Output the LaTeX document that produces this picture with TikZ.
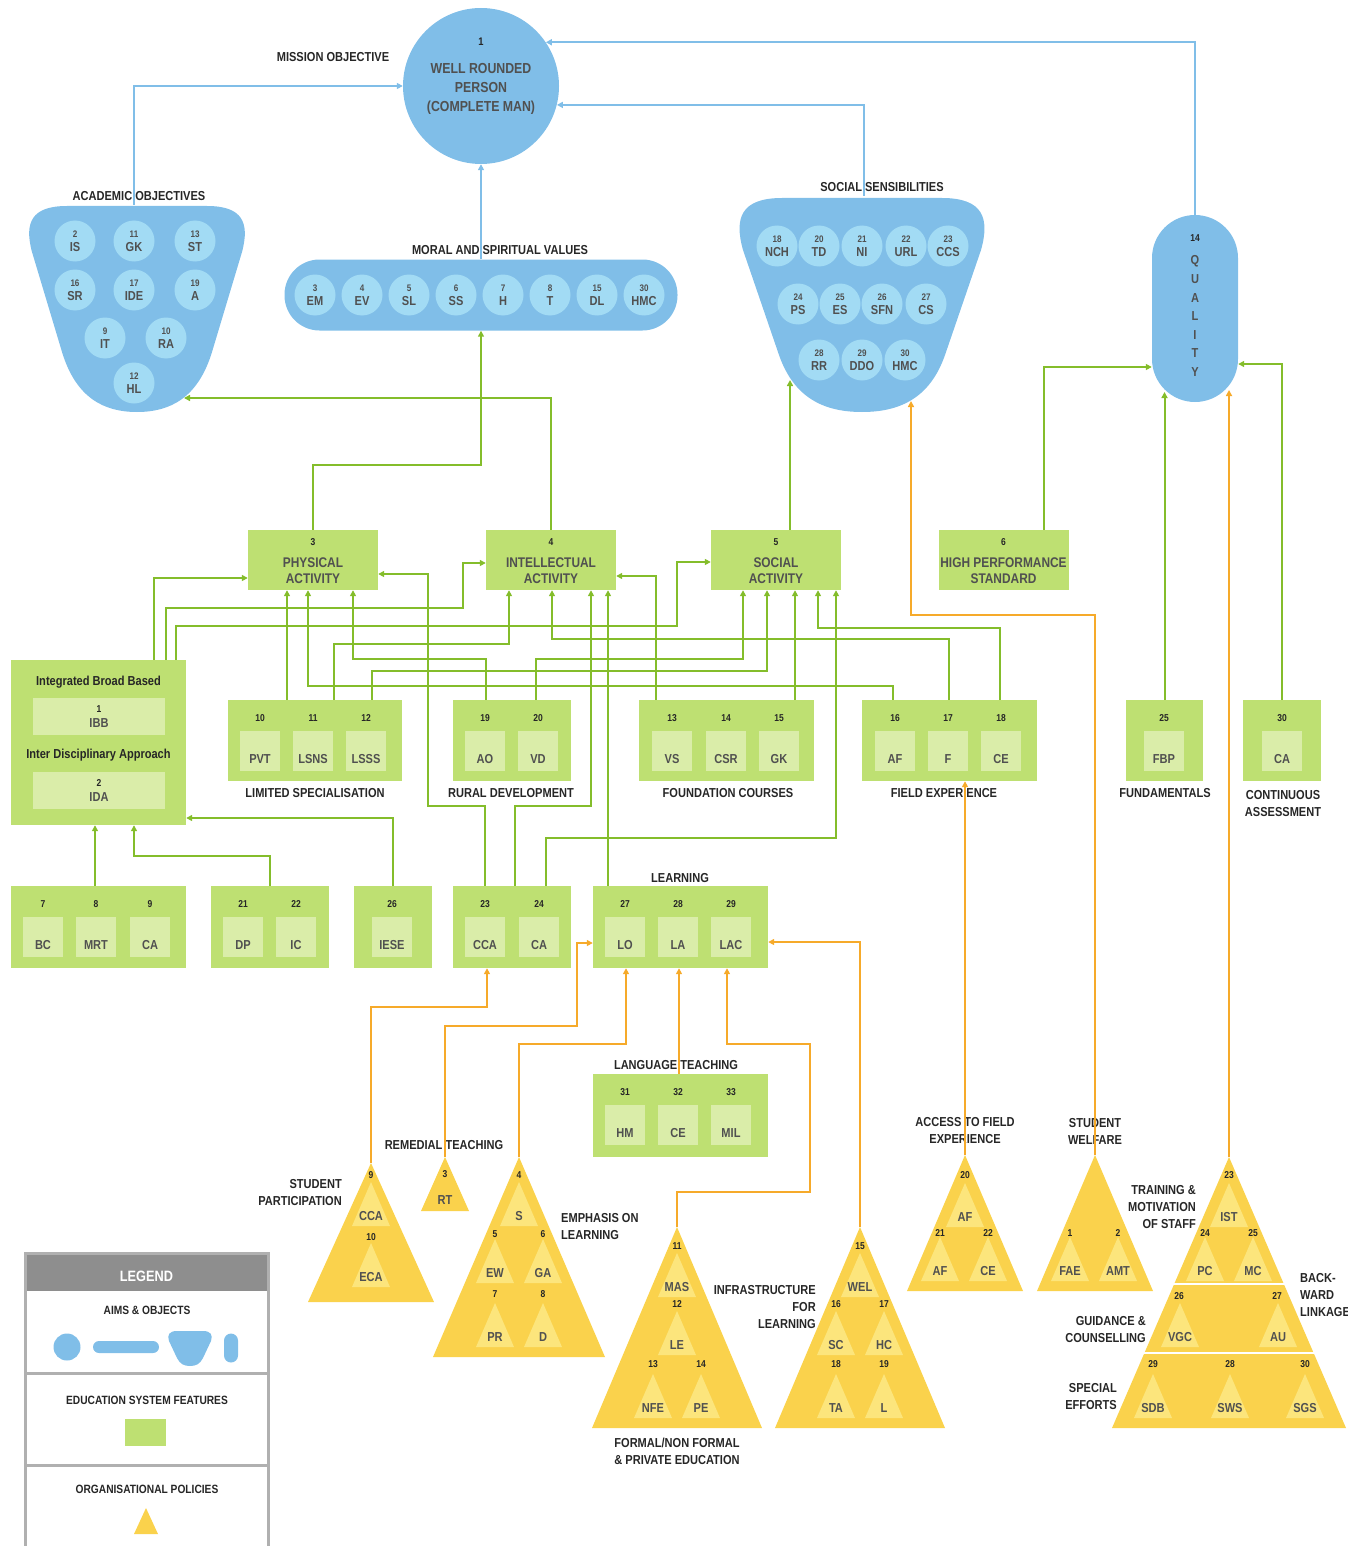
\documentclass[tikz,border=0pt]{standalone}
\usepackage{fontspec}
\setmainfont{Liberation Sans}[FakeStretch=0.85]
\usetikzlibrary{arrows.meta, positioning}

\definecolor{objblue}{HTML}{80BEE8}
\definecolor{objlight}{HTML}{A2DBF4}
\definecolor{featgreen}{HTML}{BEE072}
\definecolor{featlight}{HTML}{DAEDA9}
\definecolor{linegreen}{HTML}{84BD2B}
\definecolor{lineorange}{HTML}{F6AA2A}
\definecolor{polyellow}{HTML}{FAD24C}
\definecolor{pollight}{HTML}{FCE57C}
\definecolor{lbltext}{HTML}{262626}
\definecolor{intext}{HTML}{505050}
\definecolor{legendgray}{HTML}{8E8E8E}

\tikzset{
  lbl/.style={font=\fontsize{13}{17}\selectfont\bfseries, text=lbltext, inner sep=0pt, align=center},
  numtxt/.style={font=\fontsize{10}{12}\selectfont\bfseries, text=lbltext, inner sep=0pt},
  celltxt/.style={font=\fontsize{13}{15}\selectfont\bfseries, text=intext, inner sep=0pt},
  bigtxt/.style={font=\fontsize{14.5}{19}\selectfont\bfseries, text=intext, inner sep=0pt, align=center},
  acttxt/.style={font=\fontsize{14}{16}\selectfont\bfseries, text=intext, inner sep=0pt, align=center},
  ibbtxt/.style={font=\fontsize{13}{15}\selectfont\bfseries, text=lbltext, inner sep=0pt},
  incirc/.style={circle, fill=objlight, minimum size=41, inner sep=0pt, align=center,
    font=\fontsize{13}{14}\selectfont\bfseries, text=intext},
  featbox/.style={fill=featgreen, inner sep=0pt},
  cellbox/.style={fill=featlight, minimum width=40, minimum height=40, inner sep=0pt},
  bline/.style={draw=objblue, line width=2.2pt, -{Triangle[length=6pt,width=6pt]}},
  gline/.style={draw=linegreen, line width=2pt, -{Triangle[length=6pt,width=6pt]}},
  oline/.style={draw=lineorange, line width=2pt, -{Triangle[length=6pt,width=6pt]}},
}

% small circle inside a blue aim
\newcommand{\objc}[4]{\node[incirc] (#1) at (#2) {{\fontsize{9.5}{14}\selectfont #3}\\#4};}
% cell of a green feature box: name, x, top y, number, abbreviation
\newcommand{\fcell}[5]{%
  \node[numtxt] (#1n) at (#2,#3+18) {#4};
  \node[cellbox] (#1) at (#2,#3+51) {};
  \node[celltxt] (#1t) at (#2,#3+59) {#5};}
% policy triangle: x, apex y, base y, half width
\newcommand{\ptri}[4]{\fill[polyellow] (#1,#2) -- (#1+#4,#3) -- (#1-#4,#3) -- cycle;}
% inner triangle: name, x, base y, abbreviation
\newcommand{\itri}[4]{%
  \fill[pollight] (#2,#3-44) -- (#2+19,#3) -- (#2-19,#3) -- cycle;
  \node[celltxt] (#1) at (#2,#3-10) {#4};}
% top activity box: name, x, number, line 1, line 2
\newcommand{\actbox}[5]{%
  \node[featbox, minimum width=130, minimum height=60] (#1) at (#2,560) {};
  \node[numtxt] (#1n) at (#2,542) {#3};
  \node[acttxt] (#1t) at (#2,571) {#4\\#5};}

\begin{document}
\begin{tikzpicture}[x=1pt, y=-1pt]
  \useasboundingbox (0,0) rectangle (1347,1546);

  % Mission objective
  \node[circle, fill=objblue, minimum size=156, inner sep=0pt] (wrp) at (481,86) {};
  \node[numtxt, font=\fontsize{11}{12}\selectfont\bfseries] (wrpn) at (481,42) {1};
  \node[bigtxt] (wrpt) at (481,89) {WELL ROUNDED\\PERSON\\(COMPLETE MAN)};
  \node[lbl] (mobj) at (333,57) {MISSION OBJECTIVE};

  % Academic objectives
  \node[inner sep=0pt, minimum width=234, minimum height=208] (acad) at (139,309) {};
  \fill[objblue] (67,206) -- (207,206) .. controls (242,206) and (250,222) .. (242,252)
    -- (212,352) .. controls (198,398) and (170,412) .. (137,412)
    .. controls (104,412) and (76,398) .. (62,352) -- (32,252)
    .. controls (24,222) and (32,206) .. (67,206) -- cycle;
  \objc{ao2}{75,241}{2}{IS}
  \objc{ao11}{134,241}{11}{GK}
  \objc{ao13}{195,241}{13}{ST}
  \objc{ao16}{75,290}{16}{SR}
  \objc{ao17}{134,290}{17}{IDE}
  \objc{ao19}{195,290}{19}{A}
  \objc{ao9}{105,338}{9}{IT}
  \objc{ao10}{166,338}{10}{RA}
  \objc{ao12}{134,383}{12}{HL}
  \coordinate (acadin) at (184,398);

  % Moral and spiritual values
  \node[fill=objblue, rounded corners=35, minimum width=393, minimum height=71, inner sep=0pt] (msv) at (481,295) {};
  \foreach \x/\n/\a [count=\i] in {315/3/EM, 362/4/EV, 409/5/SL, 456/6/SS, 503/7/H, 550/8/T, 597/15/DL, 644/30/HMC}
    \objc{mv\i}{\x,295}{\n}{\a};

  % Social sensibilities
  \node[inner sep=0pt, minimum width=250, minimum height=218] (soc) at (864,305) {};
  \fill[objblue] (782,198) -- (942,198) .. controls (983,198) and (990,218) .. (981,250)
    -- (945,355) .. controls (930,398) and (900,412) .. (862,412)
    .. controls (824,412) and (794,398) .. (779,355) -- (743,250)
    .. controls (734,218) and (741,198) .. (782,198) -- cycle;
  \foreach \x/\n/\a [count=\i] in {777/18/NCH, 819/20/TD, 862/21/NI, 906/22/URL, 948/23/CCS}
    \objc{ssa\i}{\x,246}{\n}{\a};
  \foreach \x/\n/\a [count=\i] in {798/24/PS, 840/25/ES, 882/26/SFN, 926/27/CS}
    \objc{ssb\i}{\x,304}{\n}{\a};
  \foreach \x/\n/\a [count=\i] in {819/28/RR, 862/29/DDO, 905/30/HMC}
    \objc{ssc\i}{\x,360}{\n}{\a};
  \coordinate (socin) at (790,380);
  \coordinate (socout) at (911,401);

  % Quality
  \node[fill=objblue, rounded corners=43, minimum width=86, minimum height=187, inner sep=0pt] (qual) at (1195,308.5) {};
  \node[numtxt] (qualn) at (1195,238) {14};
  \foreach \ch [count=\i] in {Q,U,A,L,I,T,Y}
    \node[celltxt] (q\i) at (1195,242.5+18.5*\i) {\ch};
  \coordinate (qualfu) at (1164.5,392);
  \coordinate (qualtr) at (1229,390);

  % Activities
  \actbox{pa}{313}{3}{PHYSICAL}{ACTIVITY}
  \actbox{ia}{551}{4}{INTELLECTUAL}{ACTIVITY}
  \actbox{sa}{776}{5}{SOCIAL}{ACTIVITY}
  \actbox{hp}{1003.5}{6}{HIGH PERFORMANCE}{STANDARD}

  % Integrated broad based box
  \node[featbox, minimum width=175, minimum height=165] (ibb) at (98.5,742.5) {};
  \node[ibbtxt] (ibbt1) at (98.5,682) {Integrated Broad Based};
  \node[cellbox, minimum width=132, minimum height=37] (ibbc1) at (99,716.5) {};
  \node[numtxt] (ibbn1) at (99,709) {1};
  \node[celltxt] (ibbc1t) at (99,723) {IBB};
  \node[ibbtxt] (ibbt2) at (98.5,755) {Inter Disciplinary Approach};
  \node[cellbox, minimum width=132, minimum height=37] (ibbc2) at (99,790.5) {};
  \node[numtxt] (ibbn2) at (99,783) {2};
  \node[celltxt] (ibbc2t) at (99,797) {IDA};

  % Middle row of features
  \node[featbox, minimum width=174, minimum height=81] (ls) at (315,740.5) {};
  \fcell{ls10}{260}{700}{10}{PVT} \fcell{ls11}{313}{700}{11}{LSNS} \fcell{ls12}{366}{700}{12}{LSSS}
  \node[lbl] (lsl) at (315,793) {LIMITED SPECIALISATION};
  \node[featbox, minimum width=118, minimum height=81] (rd) at (512,740.5) {};
  \fcell{rd19}{485}{700}{19}{AO} \fcell{rd20}{538}{700}{20}{VD}
  \node[lbl] (rdl) at (511,793) {RURAL DEVELOPMENT};
  \node[featbox, minimum width=175, minimum height=81] (fc) at (726.5,740.5) {};
  \fcell{fc13}{672}{700}{13}{VS} \fcell{fc14}{726}{700}{14}{CSR} \fcell{fc15}{779}{700}{15}{GK}
  \node[lbl] (fcl) at (728,793) {FOUNDATION COURSES};
  \node[featbox, minimum width=175, minimum height=81] (fe) at (949.5,740.5) {};
  \fcell{fe16}{895}{700}{16}{AF} \fcell{fe17}{948}{700}{17}{F} \fcell{fe18}{1001}{700}{18}{CE}
  \node[lbl] (fel) at (944,793) {FIELD EXPERIENCE};
  \node[featbox, minimum width=77, minimum height=81] (fu) at (1164.5,740.5) {};
  \fcell{fu25}{1164}{700}{25}{FBP}
  \node[lbl] (ful) at (1165,793) {FUNDAMENTALS};
  \node[featbox, minimum width=78, minimum height=81] (ca) at (1282,740.5) {};
  \fcell{ca30}{1282}{700}{30}{CA}
  \node[lbl] (cal) at (1283,804) {CONTINUOUS\\ASSESSMENT};

  % Bottom row of features
  \node[featbox, minimum width=175, minimum height=82] (b1) at (98.5,927) {};
  \fcell{b17}{43}{886}{7}{BC} \fcell{b18}{96}{886}{8}{MRT} \fcell{b19}{150}{886}{9}{CA}
  \node[featbox, minimum width=118, minimum height=82] (b2) at (269.5,927) {};
  \fcell{b221}{243}{886}{21}{DP} \fcell{b222}{296}{886}{22}{IC}
  \node[featbox, minimum width=78, minimum height=82] (b3) at (393,927) {};
  \fcell{b326}{392}{886}{26}{IESE}
  \node[featbox, minimum width=118, minimum height=82] (b4) at (512,927) {};
  \fcell{b423}{485}{886}{23}{CCA} \fcell{b424}{539}{886}{24}{CA}
  \node[featbox, minimum width=175, minimum height=82] (lrn) at (680.5,927) {};
  \fcell{lrn27}{625}{886}{27}{LO} \fcell{lrn28}{678}{886}{28}{LA} \fcell{lrn29}{731}{886}{29}{LAC}
  \node[lbl] (lrnl) at (680,878) {LEARNING};
  \node[featbox, minimum width=175, minimum height=83] (lt) at (680.5,1115.5) {};
  \fcell{lt31}{625}{1074}{31}{HM} \fcell{lt32}{678}{1074}{32}{CE} \fcell{lt33}{731}{1074}{33}{MIL}
  \node[lbl] (ltl) at (676,1065) {LANGUAGE TEACHING};

  % Policy triangles
  \ptri{371}{1163}{1302}{63}
  \ptri{445}{1157}{1211}{24}
  \ptri{519}{1157}{1357}{86}
  \ptri{677}{1227}{1428}{85}
  \ptri{860}{1227}{1428}{85}
  \ptri{965}{1155}{1291}{58}
  \ptri{1095}{1155}{1291}{58}
  \ptri{1229}{1157}{1428}{117}
  \draw[white, line width=2pt] (1160,1284) -- (1300,1284);
  \draw[white, line width=2pt] (1130,1353) -- (1330,1353);
  \coordinate (tsp) at (371,1163);
  \coordinate (trt) at (445,1157);
  \coordinate (tem) at (519,1157);
  \coordinate (tfn) at (677,1227);
  \coordinate (tin) at (860,1227);
  \coordinate (tac) at (965,1155);
  \coordinate (twf) at (1095,1155);
  \coordinate (ttr) at (1229,1157);

  % student participation
  \node[numtxt] (sp9) at (371,1175) {9};
  \itri{spcca}{371}{1226}{CCA}
  \node[numtxt] (sp10) at (371,1237) {10};
  \itri{speca}{371}{1287}{ECA}
  \node[lbl, align=right, anchor=east] (spl) at (342,1193) {STUDENT\\PARTICIPATION};
  % remedial teaching
  \node[numtxt] (rt3) at (445,1174) {3};
  \node[celltxt] (rtt) at (445,1200) {RT};
  \node[lbl] (rtl) at (444,1145) {REMEDIAL TEACHING};
  % emphasis on learning
  \node[numtxt] (em4) at (519,1175) {4};
  \itri{ems}{519}{1226}{S}
  \node[numtxt] (em5) at (495,1234) {5};
  \node[numtxt] (em6) at (543,1234) {6};
  \itri{emew}{495}{1283}{EW}
  \itri{emga}{543}{1283}{GA}
  \node[numtxt] (em7) at (495,1294) {7};
  \node[numtxt] (em8) at (543,1294) {8};
  \itri{empr}{495}{1347}{PR}
  \itri{emd}{543}{1347}{D}
  \node[lbl, align=left, anchor=west] (eml) at (561,1227) {EMPHASIS ON\\LEARNING};
  % formal / non formal
  \node[numtxt] (fn11) at (677,1246) {11};
  \itri{fnmas}{677}{1297}{MAS}
  \node[numtxt] (fn12) at (677,1304) {12};
  \itri{fnle}{677}{1355}{LE}
  \node[numtxt] (fn13) at (653,1364) {13};
  \node[numtxt] (fn14) at (701,1364) {14};
  \itri{fnnfe}{653}{1418}{NFE}
  \itri{fnpe}{701}{1418}{PE}
  \node[lbl] (fnl) at (677,1451) {FORMAL/NON FORMAL\\\& PRIVATE EDUCATION};
  % infrastructure
  \node[numtxt] (in15) at (860,1246) {15};
  \itri{inwel}{860}{1297}{WEL}
  \node[numtxt] (in16) at (836,1304) {16};
  \node[numtxt] (in17) at (884,1304) {17};
  \itri{insc}{836}{1355}{SC}
  \itri{inhc}{884}{1355}{HC}
  \node[numtxt] (in18) at (836,1364) {18};
  \node[numtxt] (in19) at (884,1364) {19};
  \itri{inta}{836}{1418}{TA}
  \itri{inl}{884}{1418}{L}
  \node[lbl, align=right, anchor=east] (inlb) at (816,1307) {INFRASTRUCTURE\\FOR\\LEARNING};
  % access to field experience
  \node[numtxt] (ac20) at (965,1175) {20};
  \itri{acaf}{965}{1227}{AF}
  \node[numtxt] (ac21) at (940,1233) {21};
  \node[numtxt] (ac22) at (988,1233) {22};
  \itri{acaf2}{940}{1281}{AF}
  \itri{acce}{988}{1281}{CE}
  \node[lbl] (acl) at (965,1131) {ACCESS TO FIELD\\EXPERIENCE};
  % student welfare
  \node[numtxt] (wf1) at (1070,1233) {1};
  \node[numtxt] (wf2) at (1118,1233) {2};
  \itri{wffae}{1070}{1281}{FAE}
  \itri{wfamt}{1118}{1281}{AMT}
  \node[lbl] (wfl) at (1095,1131) {STUDENT\\WELFARE};
  % training, guidance, special efforts
  \node[numtxt] (tr23) at (1229,1175) {23};
  \itri{trist}{1229}{1227}{IST}
  \node[numtxt] (tr24) at (1205,1233) {24};
  \node[numtxt] (tr25) at (1253,1233) {25};
  \itri{trpc}{1205}{1281}{PC}
  \itri{trmc}{1253}{1281}{MC}
  \node[numtxt] (tr26) at (1179,1296) {26};
  \node[numtxt] (tr27) at (1277,1296) {27};
  \itri{trvgc}{1180}{1347}{VGC}
  \itri{trau}{1278}{1347}{AU}
  \node[numtxt] (tr29) at (1153,1364) {29};
  \node[numtxt] (tr28) at (1230,1364) {28};
  \node[numtxt] (tr30) at (1305,1364) {30};
  \itri{trsdb}{1153}{1418}{SDB}
  \itri{trsws}{1230}{1418}{SWS}
  \itri{trsgs}{1305}{1418}{SGS}
  \node[lbl, align=right, anchor=east] (trl) at (1196,1207) {TRAINING \&\\MOTIVATION\\OF STAFF};
  \node[lbl, align=left, anchor=west] (bwl) at (1300,1295) {BACK-\\WARD\\LINKAGE};
  \node[lbl, align=right, anchor=east] (gcl) at (1146,1330) {GUIDANCE \&\\COUNSELLING};
  \node[lbl, align=right, anchor=east] (sel) at (1117,1397) {SPECIAL\\EFFORTS};

  % Blue links to the mission
  \draw[bline] (acad.north -| 134,0) |- (wrp.west);
  \draw[bline] (msv.north) -- (wrp.south);
  \draw[bline] (soc.north) |- (wrp.-14);
  \draw[bline] (qual.north) |- (wrp.34);
  \node[lbl] (acadl) at (139,196) {ACADEMIC OBJECTIVES};
  \node[lbl] (msvl) at (500,250) {MORAL AND SPIRITUAL VALUES};
  \node[lbl] (socl) at (882,187) {SOCIAL SENSIBILITIES};

  % Green links: activities to aims
  \draw[gline] (pa.north) |- (481,465) -- (msv.south);
  \draw[gline] (ia.north) |- (acadin);
  \draw[gline] (sa.north -| 790,0) -- (socin);
  \draw[gline] (hp.north -| 1044,0) |- (qual.west |- 0,367);
  \draw[gline] (fu.north) -- (qualfu);
  \draw[gline] (ca.north) |- (qual.east |- 0,364);

  % Green links: features to activities
  \draw[gline] (ibb.north -| 154,0) |- (pa.west |- 0,578);
  \draw[gline] (ibb.north -| 166,0) |- (463,608) |- (ia.west |- 0,563);
  \draw[gline] (ibb.north -| 176,0) |- (677,626) |- (sa.west |- 0,562);
  \draw[gline] (ls.north -| 287,0) -- (pa.south -| 287,0);
  \draw[gline] (ls.north -| 334,0) |- (509,644) -- (ia.south -| 509,0);
  \draw[gline] (ls.north -| 372,0) |- (767,671) -- (sa.south -| 767,0);
  \draw[gline] (rd.north -| 486,0) |- (353,659) -- (pa.south -| 353,0);
  \draw[gline] (rd.north -| 536,0) |- (743,659) -- (sa.south -| 743,0);
  \draw[gline] (fc.north -| 656,0) |- (ia.east |- 0,576);
  \draw[gline] (fc.north -| 795,0) -- (sa.south -| 795,0);
  \draw[gline] (fe.north -| 893,0) |- (308,686) -- (pa.south -| 308,0);
  \draw[gline] (fe.north -| 949,0) |- (552,639) -- (ia.south -| 552,0);
  \draw[gline] (fe.north -| 1000,0) |- (818,628) -- (sa.south -| 818,0);
  \draw[gline] (b4.north -| 485,0) |- (428,806) |- (pa.east |- 0,574);
  \draw[gline] (b4.north -| 515,0) |- (591,806) -- (ia.south -| 591,0);
  \draw[gline] (b4.north -| 546,0) |- (836,838) -- (sa.south -| 836,0);
  \draw[gline] (lrn.north -| 608,0) -- (ia.south -| 608,0);
  \draw[gline] (b1.north -| 95,0) -- (ibb.south -| 95,0);
  \draw[gline] (b2.north -| 270,0) |- (134,856) -- (ibb.south -| 134,0);
  \draw[gline] (b3.north) |- (ibb.east |- 0,818);

  % Orange links: policies
  \draw[oline] (tsp) |- (487,1007) -- (b4.south -| 487,0);
  \draw[oline] (trt) |- (577,1026) |- (lrn.west |- 0,943);
  \draw[oline] (tem) |- (626,1044) -- (lrn.south -| 626,0);
  \draw[oline] (lt.north -| 679,0) -- (lrn.south -| 679,0);
  \draw[oline] (tfn) |- (810,1192) |- (727,1044) -- (lrn.south -| 727,0);
  \draw[oline] (tin) |- (lrn.east |- 0,942);
  \draw[oline] (tac) -- (fe.south -| 965,0);
  \draw[oline] (twf) |- (911,615) -- (socout);
  \draw[oline] (ttr) -- (qualtr);

  % Legend
  \fill[legendgray] (25,1253) rectangle (268,1291);
  \draw[legendgray!70, line width=3pt] (25,1546) -- (25,1253) -- (268,1253) -- (268,1546);
  \draw[legendgray!70, line width=3pt] (25,1373) -- (268,1373);
  \draw[legendgray!70, line width=3pt] (25,1465) -- (268,1465);
  \node[font=\fontsize{15}{16}\selectfont\bfseries, text=white] (legt) at (146.5,1276) {LEGEND};
  \node[lbl, font=\fontsize{12}{14}\selectfont\bfseries] (lga) at (147,1310) {AIMS \& OBJECTS};
  \node[circle, fill=objblue, minimum size=27, inner sep=0pt] (lgc) at (67,1347) {};
  \node[fill=objblue, rounded corners=6, minimum width=66, minimum height=12, inner sep=0pt] (lgs) at (126,1347) {};
  \fill[objblue] (177,1331) -- (203,1331) .. controls (211,1331) and (213,1335) .. (211,1341)
    -- (203,1358) .. controls (200,1364) and (196,1366) .. (190,1366)
    .. controls (184,1366) and (180,1364) .. (177,1358) -- (169,1341)
    .. controls (167,1335) and (169,1331) .. (177,1331) -- cycle;
  \node[fill=objblue, rounded corners=7, minimum width=14, minimum height=29, inner sep=0pt] (lgq) at (231,1348) {};
  \node[lbl, font=\fontsize{12}{14}\selectfont\bfseries] (lge) at (147,1400) {EDUCATION SYSTEM FEATURES};
  \node[fill=featgreen, minimum width=41, minimum height=27, inner sep=0pt] (lgr) at (145.5,1432.5) {};
  \node[lbl, font=\fontsize{12}{14}\selectfont\bfseries] (lgo) at (147,1489) {ORGANISATIONAL POLICIES};
  \fill[polyellow] (146,1508) -- (158,1534) -- (134,1534) -- cycle;
\end{tikzpicture}
\end{document}
